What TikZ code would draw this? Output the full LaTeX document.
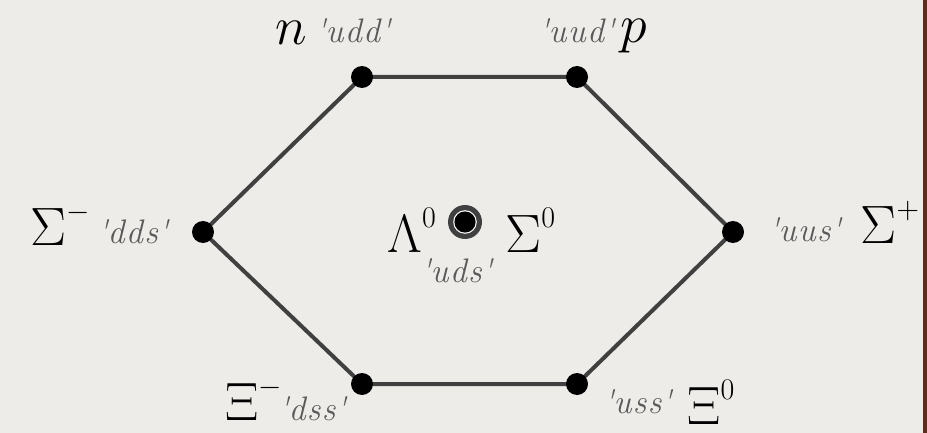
\RequirePackage{fix-cm}
\documentclass[tikz,border=0pt]{standalone}
\usepackage{fontspec}
\newfontfamily\quarkfont[LetterSpace=4]{Latin Modern Roman}
\usetikzlibrary{positioning}

\definecolor{carta}{HTML}{EDECE9}
\definecolor{bordo}{HTML}{5C2E20}
\definecolor{lato}{HTML}{404040}
\definecolor{grigioq}{HTML}{5A5A5A}

\tikzset{
  particella/.style={font=\fontsize{27}{30}\selectfont, inner sep=0pt, anchor=base west},
  quarks/.style={font=\quarkfont\itshape\fontsize{17}{18}\selectfont, text=grigioq, inner sep=0pt, anchor=base west},
}

\newcommand{\qq}[1]{\textquotesingle#1\textquotesingle}
\newcommand{\apice}[1]{\raisebox{12.5pt}{\fontsize{15}{15}\selectfont#1}}

\begin{document}
\begin{tikzpicture}[x=0.5pt,y=-0.5pt]
    % sfondo
    \fill[carta] (0,0) rectangle (927,433);
    \useasboundingbox (0,0) rectangle (927,433);
    \fill[bordo] (923,0) rectangle (927,433);

    % vertici
    \coordinate (N)    at (362,77);
    \coordinate (P)    at (577,77);
    \coordinate (SigP) at (733,232);
    \coordinate (XiZ)  at (577,384);
    \coordinate (XiM)  at (362,384);
    \coordinate (SigM) at (203,232);
    \coordinate (C)    at (465,222);

    % esagono
    \draw[lato, line width=2pt] (N) -- (P) -- (SigP) -- (XiZ) -- (XiM) -- (SigM) -- cycle;

    % punti ai vertici
    \fill (N) circle (5.5pt);
    \fill (P) circle (5.5pt);
    \fill (SigP) circle (5.5pt);
    \fill (XiZ) circle (5.5pt);
    \fill (XiM) circle (5.5pt);
    \fill (SigM) circle (5.5pt);

    % punto doppio al centro
    \fill[lato] (C) circle (8.5pt);
    \fill[white] (C) circle (5.9pt);
    \fill (C) circle (5.3pt);

    % nomi particelle
    \node[particella] (lN)    at (275,45)  {$n$};
    \node[particella] (lP)    at (620,43)  {$p$};
    \node[particella] (lSigM) at (30,245)  {$\Sigma$\apice{$-$}};
    \node[particella] (lLam)  at (387,252) {$\Lambda$\apice{0}};
    \node[particella] (lSigZ) at (505,252) {$\Sigma$\apice{0}};
    \node[particella] (lSigP) at (860,243) {$\Sigma$\apice{$+$}};
    \node[particella] (lXiM)  at (225,420) {$\Xi$\apice{$-$}};
    \node[particella] (lXiZ)  at (687,424) {$\Xi$\apice{0}};

    % contenuto in quark
    \node[quarks] (qN)    at (315,43)  {\qq{udd}};
    \node[quarks] (qP)    at (538,43)  {\qq{uud}};
    \node[quarks] (qSigM) at (97,243)  {\qq{dds}};
    \node[quarks] (qC)    at (420,282) {\qq{uds}};
    \node[quarks] (qSigP) at (768,242) {\qq{uus}};
    \node[quarks] (qXiM)  at (278,420) {\qq{dss}};
    \node[quarks] (qXiZ)  at (603,413) {\qq{uss}};
\end{tikzpicture}
\end{document}
